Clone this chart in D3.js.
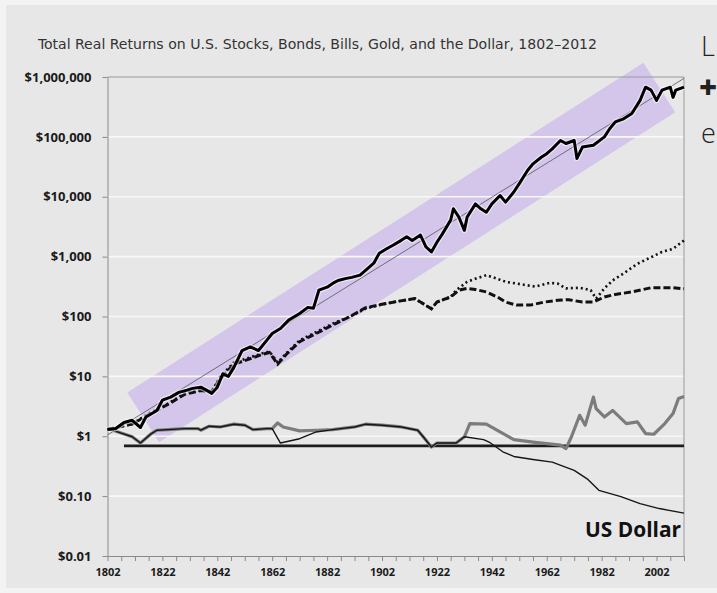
<!DOCTYPE html>
<html>
<head>
<meta charset="utf-8">
<script src="https://cdn.jsdelivr.net/npm/d3@7"></script>
<style>
    body { margin: 0; background: #f3f3f3; }
    svg { display: block; }
</style>
</head>
<body>
<script>
// real value of $1 invested in 1802
var stockYears = [1802, 1805, 1808, 1811, 1814, 1816, 1820, 1822, 1825, 1828, 1831, 1833, 1836, 1838, 1840, 1842, 1844, 1846, 1848, 1851, 1854,
    1857, 1860, 1862, 1865, 1868, 1872, 1875, 1877, 1879, 1882, 1884, 1886, 1889, 1891, 1894, 1896, 1899, 1901, 1904, 1906,
    1909, 1911, 1913, 1916, 1918, 1920, 1922, 1924, 1927, 1928, 1930, 1932, 1933, 1936, 1938, 1940, 1942, 1945, 1947, 1950,
    1952, 1955, 1957, 1960, 1962, 1964, 1967, 1969, 1972, 1973, 1975, 1979, 1983, 1985, 1987, 1990, 1993, 1996, 1998, 2000,
    2002, 2004, 2007, 2008, 2009, 2012];
var stockValues = [1.3, 1.35, 1.7, 1.85, 1.4, 2.1, 2.7, 4.0, 4.5, 5.4, 5.9, 6.3, 6.6, 5.9, 5.2, 6.6, 11, 10, 14, 27, 31,
    27, 40, 52, 63, 87, 112, 142, 137, 275, 309, 357, 400, 433, 450, 490, 590, 776, 1140, 1380, 1550,
    1870, 2140, 1860, 2290, 1450, 1200, 1740, 2400, 4070, 6300, 4570, 2750, 4570, 7590, 6300, 5500, 7590, 10500, 8130, 12000,
    16600, 27500, 35500, 45700, 52500, 63100, 87100, 77600, 87100, 43700, 67600, 72400, 100000, 138000, 178000, 200000, 245000, 407000, 676000, 603000,
    407000, 603000, 676000, 457000, 603000, 676000];

var bondYears = [1802, 1811, 1817, 1824, 1830, 1836, 1840, 1843, 1848, 1853, 1858, 1861, 1864, 1867, 1872, 1878, 1884, 1890, 1896, 1902,
    1908, 1914, 1916, 1920, 1922, 1927, 1929, 1933, 1936, 1940, 1944, 1947, 1951, 1955, 1958, 1963, 1966, 1969, 1974, 1978,
    1980, 1983, 1986, 1990, 1995, 2000, 2004, 2008, 2012];
var bondValues = [1.3, 1.6, 2.4, 3.5, 5.2, 5.9, 5.5, 9.8, 17, 20, 24, 26, 17, 24, 40, 55, 76, 98, 135, 160,
    180, 199, 174, 135, 174, 212, 275, 380, 427, 490, 427, 380, 355, 331, 316, 363, 355, 295, 302, 275,
    199, 295, 400, 525, 759, 977, 1200, 1350, 1860];

var billYears = [1802, 1811, 1817, 1824, 1830, 1836, 1840, 1843, 1848, 1853, 1858, 1861, 1864, 1867, 1872, 1878, 1884, 1890, 1896, 1902,
    1908, 1914, 1916, 1920, 1922, 1927, 1930, 1933, 1936, 1940, 1944, 1947, 1951, 1956, 1961, 1966, 1970, 1975, 1979, 1983,
    1987, 1993, 2000, 2004, 2008, 2012];
var billValues = [1.3, 1.6, 2.3, 3.4, 5.0, 5.8, 5.6, 9.0, 16, 19, 23, 25, 16, 23, 38, 52, 72, 98, 140, 160,
    180, 199, 174, 135, 174, 212, 275, 295, 282, 257, 212, 174, 155, 155, 174, 186, 191, 174, 174, 212,
    234, 257, 302, 302, 302, 290];

var goldYears = [1802, 1807, 1811, 1814, 1818, 1820, 1824, 1830, 1835, 1836, 1839, 1843, 1848, 1852, 1855, 1860, 1862, 1864, 1866, 1872,
    1878, 1884, 1892, 1896, 1902, 1909, 1915, 1917, 1920, 1922, 1929, 1932, 1934, 1940, 1945, 1950, 1957, 1967, 1969, 1971,
    1974, 1976, 1979, 1980, 1983, 1986, 1991, 1995, 1998, 2001, 2005, 2008, 2010, 2012];
var goldValues = [1.35, 1.13, 0.98, 0.77, 1.11, 1.26, 1.29, 1.34, 1.34, 1.26, 1.47, 1.43, 1.59, 1.53, 1.29, 1.34, 1.34, 1.67, 1.43, 1.23,
    1.26, 1.29, 1.43, 1.59, 1.53, 1.43, 1.26, 0.98, 0.66, 0.77, 0.77, 0.98, 1.63, 1.59, 1.18, 0.88, 0.80, 0.71, 0.62, 0.98,
    2.24, 1.53, 4.5, 2.9, 2.1, 2.7, 1.63, 1.74, 1.11, 1.08, 1.63, 2.39, 4.26, 4.6];

var dollarYears = [1802, 1807, 1811, 1814, 1818, 1820, 1824, 1830, 1835, 1836, 1839, 1843, 1848, 1852, 1855, 1860, 1862, 1865, 1872, 1878,
    1884, 1892, 1896, 1902, 1909, 1915, 1917, 1920, 1922, 1929, 1932, 1939, 1941, 1946, 1950, 1957, 1964, 1972, 1977, 1981,
    1989, 1996, 2003, 2012];
var dollarValues = [1.35, 1.13, 0.98, 0.77, 1.11, 1.26, 1.29, 1.34, 1.34, 1.26, 1.47, 1.43, 1.59, 1.53, 1.29, 1.34, 1.34, 0.77, 0.91, 1.18,
    1.29, 1.43, 1.59, 1.53, 1.43, 1.26, 0.98, 0.66, 0.77, 0.77, 0.98, 0.88, 0.80, 0.55, 0.46, 0.41, 0.37, 0.27, 0.19, 0.125,
    0.098, 0.075, 0.062, 0.052];

// thin trend line, the purple band around it and the flat reference line
var trendYears = [1802, 2012];
var trendValues = [1.05, 950000];
var bandYears = [1815, 2003];
var bandValues = [2.06, 668000];
var flatYears = [1808, 2012];
var flatValues = [0.69, 0.69];

var yTickValues = [0.01, 0.1, 1, 10, 100, 1000, 10000, 100000, 1000000];
var yTickLabels = ["$0.01", "$0.10", "$1", "$10", "$100", "$1,000", "$10,000", "$100,000", "$1,000,000"];
var xTickLabels = [1802, 1822, 1842, 1862, 1882, 1902, 1922, 1942, 1962, 1982, 2002];

var ReturnsChart = (function () {
    function ReturnsChart(width = 717, height = 593) {
        this.width = width;
        this.height = height;
        this.init();
        this.drawGraphs();
    }

    ReturnsChart.prototype.init = function () {
        var self = this;
        self.x = d3.scaleLinear().domain([1802, 2012]).range([107.5, 684]);
        self.y = d3.scaleLog().domain([0.01, 1000000]).range([556, 77]);
        self.line = d3.line()
            .x(d => self.x(d[0]))
            .y(d => self.y(d[1]));

        self.svg = d3.select("body").append("svg")
            .attr("width", self.width)
            .attr("height", self.height);
    };

    ReturnsChart.prototype.drawGraphs = function () {
        var self = this;
        var svg = self.svg, x = self.x, y = self.y;

        svg.append("rect")
            .attr("x", 6).attr("y", 5)
            .attr("width", self.width - 6).attr("height", 583)
            .attr("fill", "#e7e7e7");

        svg.append("text")
            .attr("x", 38).attr("y", 49)
            .attr("textLength", 559)
            .attr("lengthAdjust", "spacingAndGlyphs")
            .style("font", "14.5px 'Liberation Sans Narrow', 'DejaVu Sans Condensed', sans-serif")
            .attr("fill", "#333")
            .text("Total Real Returns on U.S. Stocks, Bonds, Bills, Gold, and the Dollar, 1802\u20132012");

        // purple band (rotated rectangle along the growth trend)
        var p1 = [x(bandYears[0]), y(bandValues[0])];
        var p2 = [x(bandYears[1]), y(bandValues[1])];
        var len = Math.hypot(p2[0] - p1[0], p2[1] - p1[1]);
        var nx = -(p2[1] - p1[1]) / len * 29.5, ny = (p2[0] - p1[0]) / len * 29.5;
        svg.append("polygon")
            .attr("points", [[p1[0] + nx, p1[1] + ny], [p2[0] + nx, p2[1] + ny],
                [p2[0] - nx, p2[1] - ny], [p1[0] - nx, p1[1] - ny]].join(" "))
            .attr("fill", "rgb(200,178,238)")
            .attr("opacity", 0.62);

        // grid lines
        svg.append("g")
            .selectAll("line")
            .data(yTickValues.slice(1, -1))
            .join("line")
            .attr("x1", x(1802)).attr("x2", x(2012))
            .attr("y1", d => y(d)).attr("y2", d => y(d))
            .attr("stroke", "#f8f8f8")
            .attr("stroke-width", 1.6);
        svg.append("line")
            .attr("x1", x(1802)).attr("x2", x(2012))
            .attr("y1", y(1000000)).attr("y2", y(1000000))
            .attr("stroke", "#9a9a9a");
        svg.append("line")
            .attr("x1", x(2012)).attr("x2", x(2012))
            .attr("y1", y(1000000)).attr("y2", y(0.01))
            .attr("stroke", "#9a9a9a");

        // axes
        var yAxis = svg.append("g")
            .attr("transform", `translate(${x(1802)},0)`)
            .call(d3.axisLeft(y)
                .tickValues(yTickValues)
                .tickFormat((d, i) => yTickLabels[i])
                .tickSize(5)
                .tickSizeOuter(0)
                .tickPadding(11));
        yAxis.selectAll("text")
            .style("font", "bold 13px 'Open Sans', sans-serif")
            .attr("fill", "#1a1a1a");

        var xAxis = svg.append("g")
            .attr("transform", `translate(0,${y(0.01)})`)
            .call(d3.axisBottom(x)
                .tickValues(d3.range(1802, 2013, 5))
                .tickFormat(d => xTickLabels.includes(d) ? d : "")
                .tickSize(5)
                .tickSizeOuter(0)
                .tickPadding(7));
        xAxis.selectAll("text")
            .style("font", "bold 11px 'Open Sans', sans-serif")
            .attr("fill", "#1a1a1a");

        svg.selectAll(".domain, .tick line").attr("stroke", "#8a8a8a");

        // series
        svg.append("path")
            .datum(d3.zip(flatYears, flatValues))
            .attr("d", self.line)
            .attr("fill", "none")
            .attr("stroke", "#1c1c1c")
            .attr("stroke-width", 2.6);

        svg.append("path")
            .datum(d3.zip(goldYears, goldValues))
            .attr("d", self.line)
            .attr("fill", "none")
            .attr("stroke", "#7c7c7c")
            .attr("stroke-width", 3.2)
            .attr("stroke-linejoin", "round");

        svg.append("path")
            .datum(d3.zip(dollarYears, dollarValues))
            .attr("d", self.line)
            .attr("fill", "none")
            .attr("stroke", "#161616")
            .attr("stroke-width", 1.4)
            .attr("stroke-linejoin", "round");

        svg.append("path")
            .datum(d3.zip(billYears, billValues))
            .attr("d", self.line)
            .attr("fill", "none")
            .attr("stroke", "#111")
            .attr("stroke-width", 3)
            .attr("stroke-dasharray", "7,3");

        svg.append("path")
            .datum(d3.zip(bondYears, bondValues))
            .attr("d", self.line)
            .attr("fill", "none")
            .attr("stroke", "#111")
            .attr("stroke-width", 2.6)
            .attr("stroke-dasharray", "2,3");

        svg.append("path")
            .datum(d3.zip(trendYears, trendValues))
            .attr("d", self.line)
            .attr("fill", "none")
            .attr("stroke", "#555")
            .attr("stroke-width", 0.8);

        var stocks = d3.zip(stockYears, stockValues);
        svg.append("path")
            .datum(stocks)
            .attr("d", self.line)
            .attr("fill", "none")
            .attr("stroke", "#fff")
            .attr("stroke-opacity", 0.55)
            .attr("stroke-width", 5.5)
            .attr("stroke-linejoin", "round");
        svg.append("path")
            .datum(stocks)
            .attr("d", self.line)
            .attr("fill", "none")
            .attr("stroke", "#000")
            .attr("stroke-width", 3)
            .attr("stroke-linejoin", "round");

        svg.append("text")
            .attr("x", 681).attr("y", 537)
            .attr("text-anchor", "end")
            .attr("textLength", 96)
            .attr("lengthAdjust", "spacingAndGlyphs")
            .style("font", "bold 22px 'Open Sans', sans-serif")
            .attr("fill", "#111")
            .text("US Dollar");

        // cut-off slide text on the right edge
        var side = svg.append("g")
            .style("font", "300 27px 'Open Sans', sans-serif")
            .attr("fill", "#222");
        side.append("text").attr("x", 701).attr("y", 56).text("L");
        side.append("text").attr("x", 699).attr("y", 99)
            .style("font-weight", "800").style("font-size", "31px").text("+");
        side.append("text").attr("x", 701).attr("y", 143).text("e");
    };

    return ReturnsChart;
})();

new ReturnsChart(717, 593);
</script>
</body>
</html>
